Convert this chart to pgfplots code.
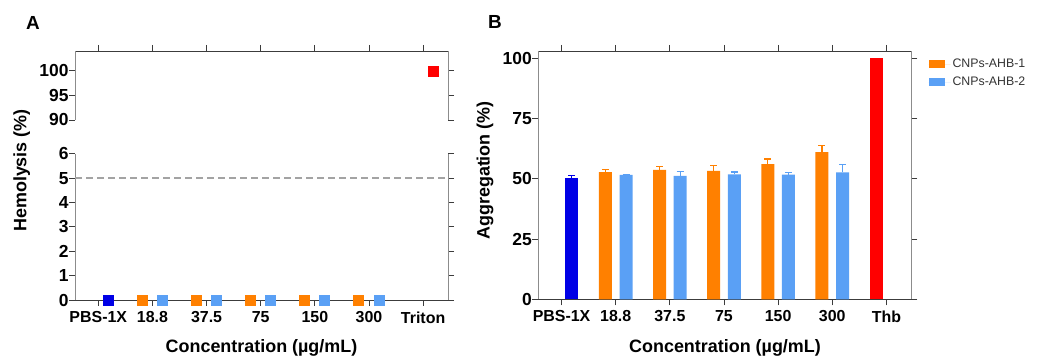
\documentclass[border=0pt]{standalone}
\usepackage{fontspec}
\setmainfont{Liberation Sans}
\usepackage{pgfplots}
\pgfplotsset{compat=1.18}
\definecolor{cOrange}{RGB}{255,128,0}
\definecolor{cLblue}{RGB}{90,160,245}
\definecolor{cBlue}{RGB}{0,0,230}
\definecolor{cRed}{RGB}{255,0,0}
\definecolor{axdark}{RGB}{60,60,60}
\definecolor{axgray}{RGB}{140,140,140}
\pgfplotsset{
  myaxis/.style={
    scale only axis, width=373bp,
    tick align=outside, major tick length=6bp,
    separate axis lines,
    x axis line style={axdark, line width=0.9bp},
    y axis line style={axgray, line width=0.9bp},
    major tick style={axdark, line width=0.9bp},
    minor tick num=0,
    xticklabel style={font=\bfseries\fontsize{16}{16}\selectfont, text=black, yshift=-2bp},
    yticklabel style={font=\bfseries\fontsize{17.5}{17.5}\selectfont, text=black, xshift=3bp},
    /pgf/number format/assume math mode=true,
    xmin=-0.43, xmax=6.46, xtick={0,...,6},
    clip=false, anchor=south west,
  },
  sq/.style={only marks, color=#1, mark=square*, mark size=5bp, mark options={draw=#1, fill=#1}},
  bar/.style={ybar, bar width=13bp, bar shift=0pt, draw=none, fill=#1,
    error bars/y dir=plus, error bars/y explicit,
    error bars/error bar style={draw=#1, line width=1.2bp},
    error bars/error mark options={draw=#1, line width=1.2bp, mark size=3.5bp, rotate=90}},
  sw/.style={legend image code/.code={\fill[#1] (0bp,-4bp) rectangle (16bp,4bp); \path (0bp,0bp) -- (22bp,0bp);}},
}
\begin{document}
\begin{tikzpicture}
\path[use as bounding box] (0,0) rectangle (1045bp,358bp);
% Panel A, top segment
\begin{axis}[myaxis, at={(75bp,238bp)}, height=69bp,
  axis x line*=top, axis y line*=box,
  ymin=90, ymax=104, ytick={90,95,100}, xticklabels={}]
  \addplot[sq=cRed] coordinates {(6.18,100)};
\end{axis}
% Panel A, bottom segment
\begin{axis}[myaxis, at={(75bp,58bp)}, height=146.3bp,
  axis x line*=bottom, axis y line*=box,
  ymin=0, ymax=6, ytick={0,...,6},
  xticklabels={PBS-1X,18.8,37.5,75,150,300,Triton}]
  \addplot[axgray!80, line width=1.2bp, dash pattern=on 7bp off 4bp] coordinates {(-0.43,5) (6.46,5)};
  \addplot[sq=cBlue] coordinates {(0.18,0)};
  \addplot[sq=cOrange] coordinates {(0.81,0) (1.81,0) (2.81,0) (3.81,0) (4.81,0)};
  \addplot[sq=cLblue] coordinates {(1.18,0) (2.18,0) (3.18,0) (4.18,0) (5.18,0)};
\end{axis}
% Panel B
\begin{axis}[myaxis, at={(538.3bp,58.7bp)}, height=248.3bp,
  ymin=0, ymax=103, ytick={0,25,50,75,100},
  xticklabels={PBS-1X,18.8,37.5,75,150,300,Thb},
  legend style={at={(1,1)}, anchor=north west, xshift=17bp, yshift=-6bp,
    draw=none, fill=none, font=\fontsize{12.4}{14}\selectfont, text=black!80,
    row sep=4bp, inner sep=0pt, nodes={inner sep=2bp}},
  legend cell align=left]
  \addplot[forget plot, bar=cBlue] coordinates {(0.19,50.4) +- (0,1.0)};
  \addplot[sw=cOrange, bar=cOrange]
    coordinates {(0.81,52.8) +- (0,1.0) (1.81,53.7) +- (0,1.3) (2.81,53.3) +- (0,2.3) (3.81,56.1) +- (0,2.1) (4.81,61.1) +- (0,2.7)};
  \addlegendentry{CNPs-AHB-1}
  \addplot[sw=cLblue, bar=cLblue]
    coordinates {(1.19,51.6) +- (0,0.3) (2.19,51.2) +- (0,1.8) (3.19,51.8) +- (0,1.0) (4.19,51.7) +- (0,0.9) (5.19,52.6) +- (0,3.3)};
  \addlegendentry{CNPs-AHB-2}
  \addplot[forget plot, ybar, bar width=13bp, bar shift=0pt, draw=none, fill=cRed] coordinates {(5.81,100)};
\end{axis}
% labels
\node[font=\bfseries\fontsize{19}{19}\selectfont, anchor=base west, inner sep=0] at (26bp,328bp) {A};
\node[font=\bfseries\fontsize{19}{19}\selectfont, anchor=base west, inner sep=0] at (488bp,329bp) {B};
\node[font=\bfseries\fontsize{18}{18}\selectfont, anchor=base] at (261.5bp,6bp) {Concentration (µg/mL)};
\node[font=\bfseries\fontsize{18}{18}\selectfont, anchor=base] at (725bp,6bp) {Concentration (µg/mL)};
\node[font=\bfseries\fontsize{18}{18}\selectfont, rotate=90] at (21.7bp,187.5bp) {Hemolysis (\%)};
\node[font=\bfseries\fontsize{18}{18}\selectfont, rotate=90] at (485bp,187.5bp) {Aggregation (\%)};
\end{tikzpicture}
\end{document}
